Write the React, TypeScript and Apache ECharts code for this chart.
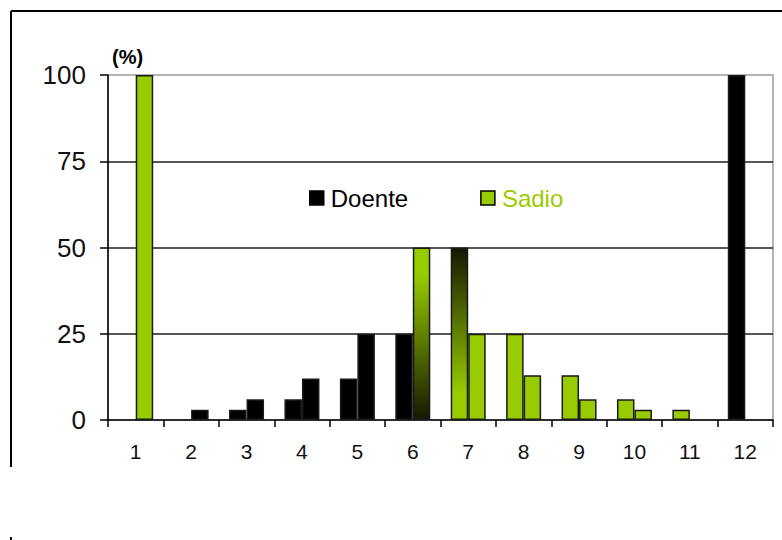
import React, { useEffect, useRef } from "react";
import * as echarts from "echarts";

// Score classes on the horizontal axis
const categories = ["1", "2", "3", "4", "5", "6", "7", "8", "9", "10", "11", "12"];

// Percentages, left and right bar of each class
const leftValues = [null, null, 3, 6, 12, 25, 50, 25, 13, 6, 3, 100];
const rightValues = [100, 3, 6, 12, 25, 50, 25, 13, 6, 3, null, null];

// Group of each bar: D = Doente, S = Sadio, "D-S" / "S-D" = blend from top to bottom
const leftGroups = ["", "", "D", "D", "D", "D", "D-S", "S", "S", "S", "S", "D"];
const rightGroups = ["S", "D", "D", "D", "D", "S-D", "S", "S", "S", "S", "", ""];

const yTicks = [0, 25, 50, 75, 100];
const legendNames = ["Doente", "Sadio"];

const BLACK = "#000000";
const GREEN = "#99cc00";
const DARK = "#141800";

function fillFor(group: string): any {
  if (group === "D") return BLACK;
  if (group === "S") return GREEN;
  if (group === "D-S") {
    return {
      type: "linear", x: 0, y: 0, x2: 0, y2: 1,
      colorStops: [
        { offset: 0, color: DARK },
        { offset: 0.85, color: GREEN },
        { offset: 1, color: GREEN },
      ],
    };
  }
  return {
    type: "linear", x: 0, y: 0, x2: 0, y2: 1,
    colorStops: [
      { offset: 0, color: GREEN },
      { offset: 0.15, color: GREEN },
      { offset: 1, color: DARK },
    ],
  };
}

function barData(values: (number | null)[], groups: string[]) {
  return values.map((v, i) =>
    v == null
      ? null
      : { value: v, itemStyle: { color: fillFor(groups[i]) } }
  );
}

export default function App() {
  const ref = useRef<HTMLDivElement>(null);

  useEffect(() => {
    if (!ref.current) return;
    const chart = echarts.init(ref.current, undefined, { renderer: "svg" });
    const font = "Liberation Sans, Arial, sans-serif";
    const barStyle = { borderColor: "#1a1a1a", borderWidth: 1.5 };

    chart.setOption({
      animation: false,
      backgroundColor: "#ffffff",
      textStyle: { fontFamily: font },
      grid: {
        left: 108,
        right: 9,
        top: 75,
        bottom: 120,
        show: true,
        borderColor: "#9a9a9a",
        borderWidth: 1.5,
        backgroundColor: "transparent",
      },
      legend: {
        left: 304,
        top: 181,
        icon: "rect",
        itemWidth: 14,
        itemHeight: 14,
        itemGap: 72,
        itemStyle: { borderColor: "#000", borderWidth: 1.5 },
        selectedMode: false,
        data: [
          { name: legendNames[0], textStyle: { color: BLACK } },
          { name: legendNames[1], textStyle: { color: GREEN } },
        ],
        textStyle: { fontSize: 24, fontFamily: font, padding: [0, 0, 0, 2] },
      },
      xAxis: {
        type: "category",
        data: categories,
        boundaryGap: true,
        axisLine: { lineStyle: { color: "#000", width: 1.5 } },
        axisTick: { show: true, length: 7, lineStyle: { color: "#000", width: 1.5 } },
        axisLabel: { fontSize: 21, color: "#111", margin: 21, fontFamily: font },
        splitLine: { show: false },
      },
      yAxis: {
        type: "value",
        min: yTicks[0],
        max: yTicks[yTicks.length - 1],
        interval: yTicks[1] - yTicks[0],
        name: "(%)",
        nameLocation: "end",
        nameGap: 8,
        nameTextStyle: {
          fontSize: 20,
          fontWeight: "bold",
          color: "#000",
          align: "left",
          verticalAlign: "bottom",
          padding: [0, 0, 0, 4],
          fontFamily: font,
        },
        axisLine: { show: true, lineStyle: { color: "#000", width: 1.5 } },
        axisTick: { show: true, length: 8, lineStyle: { color: "#000", width: 1.5 } },
        axisLabel: { fontSize: 26, color: "#111", margin: 22, fontFamily: font },
        splitLine: {
          show: true,
          showMinLine: false,
          showMaxLine: false,
          lineStyle: { color: "#1e1e1e", width: 1.5 },
        },
      },
      series: [
        {
          name: "left",
          type: "bar",
          data: barData(leftValues, leftGroups),
          barWidth: 17.5,
          barGap: "0%",
          itemStyle: barStyle,
        },
        {
          name: "right",
          type: "bar",
          data: barData(rightValues, rightGroups),
          barWidth: 17.5,
          barGap: "0%",
          itemStyle: barStyle,
        },
        { name: legendNames[0], type: "line", data: [], itemStyle: { color: BLACK } },
        { name: legendNames[1], type: "line", data: [], itemStyle: { color: GREEN } },
      ],
      graphic: [
        {
          type: "line",
          shape: { x1: 11, y1: 11, x2: 782, y2: 11 },
          style: { stroke: "#000", lineWidth: 2 },
          silent: true,
        },
        {
          type: "line",
          shape: { x1: 11, y1: 11, x2: 11, y2: 467 },
          style: { stroke: "#000", lineWidth: 2 },
          silent: true,
        },
        {
          type: "rect",
          shape: { x: 10, y: 537, width: 2, height: 3 },
          style: { fill: "#000" },
          silent: true,
        },
      ],
    });

    return () => chart.dispose();
  }, []);

  return (
    <div
      ref={ref}
      style={{ position: "fixed", left: 0, top: 0, width: 782, height: 540 }}
    />
  );
}
